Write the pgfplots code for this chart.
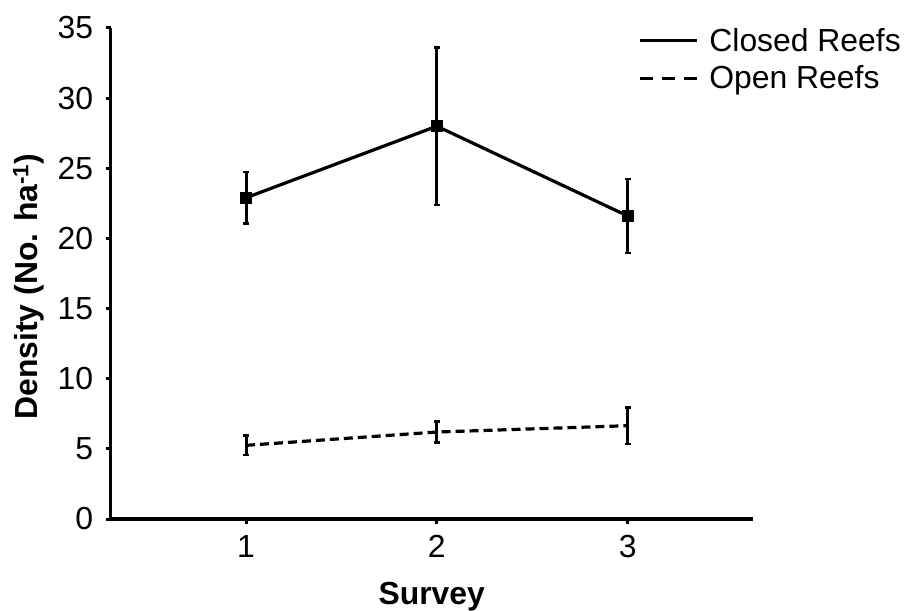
\documentclass[border=0pt]{standalone}
\usepackage{pgfplots}
\pgfplotsset{compat=1.18}
\usepackage{fontspec}
\setmainfont{Liberation Sans}
\begin{document}
\begin{tikzpicture}
\path[use as bounding box] (-110.7bp,-92bp) rectangle (798.3bp,519bp);
\begin{axis}[
  name=ax,
  at={(0,0)}, anchor=south west,
  scale only axis,
  width=642bp, height=491bp,
  xmin=0.291, xmax=3.655,
  ymin=0, ymax=35,
  axis x line*=bottom, axis y line*=left,
  axis line style={line width=3.2bp},
  xtick={1,2,3},
  ytick={0,5,...,35},
  tick align=outside,
  major tick length=5bp,
  tick style={line width=3bp, black},
  font=\fontsize{32}{38}\selectfont,
  /pgf/number format/assume math mode=true,
  yticklabel style={xshift=-9bp},
  xticklabel style={yshift=-8bp},
  xlabel={\bfseries Survey},
  ylabel={\bfseries Density (No. ha\textsuperscript{-1})},
  every axis x label/.style={at={(axis description cs:0.5,0)}, anchor=center, yshift=-78bp},
  every axis y label/.style={at={(axis description cs:-0.128,0.4735)}, rotate=90, anchor=center},
  legend image code/.code={\draw[#1] (0bp,0bp) -- (57bp,0bp);},
  legend style={at={(rel axis cs:0.8167,1.006)}, anchor=north west, draw=none, fill=none,
    font=\fontsize{32}{38}\selectfont, nodes={inner sep=1bp}, row sep=11bp,
    /tikz/every odd column/.append style={column sep=10bp}},
  legend cell align=left,
  clip=false,
]
\addplot[black, line width=3.2bp, mark=square*, mark size=4.2bp, forget plot,
  error bars/.cd, y dir=both, y explicit,
  error bar style={line width=3bp},
  error mark options={rotate=90, mark size=3bp, line width=2.5bp}]
  coordinates {(1,22.9) +- (0,1.85) (2,28.0) +- (0,5.6) (3,21.6) +- (0,2.65)};
\addplot[black, line width=3.2bp, dash pattern=on 9bp off 5bp, mark=none, forget plot,
  error bars/.cd, y dir=both, y explicit,
  error bar style={line width=3bp, solid},
  error mark options={rotate=90, mark size=3bp, line width=2.5bp, solid}]
  coordinates {(1,5.25) +- (0,0.7) (2,6.2) +- (0,0.75) (3,6.65) +- (0,1.3)};
\addlegendimage{black, line width=3.2bp}
\addlegendentry{Closed Reefs}
\addlegendimage{black, line width=3.2bp, dash pattern=on 13bp off 9bp}
\addlegendentry{Open Reefs}
\end{axis}
\end{tikzpicture}
\end{document}
